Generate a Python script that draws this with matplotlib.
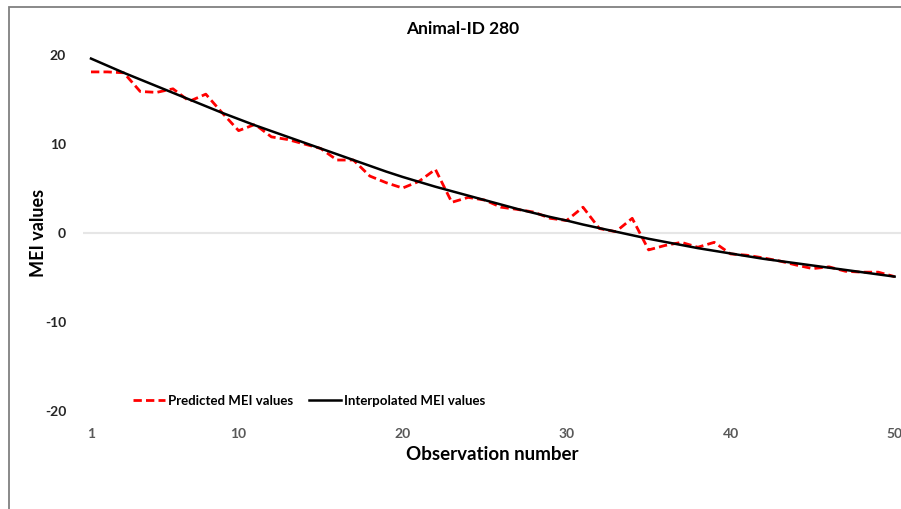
import matplotlib
matplotlib.use("Agg")
import matplotlib.pyplot as plt
from matplotlib.patches import Rectangle

obs = list(range(1, 51))
predicted = [18.1, 18.1, 18.0, 15.9, 15.8, 16.2, 14.8, 15.6, 13.5, 11.5,
             12.2, 10.8, 10.5, 10.0, 9.5, 8.2, 8.2, 6.4, 5.65, 5.05,
             5.8, 7.15, 3.45, 4.0, 3.7, 2.9, 2.65, 2.35, 1.65, 1.4,
             2.9, 0.5, 0.15, 1.65, -1.9, -1.4, -1.05, -1.6, -1.05, -2.35,
             -2.5, -2.8, -3.15, -3.6, -4.0, -3.8, -4.3, -4.4, -4.4, -4.9]
interpolated = [19.6, 18.8, 18.0, 17.25, 16.5, 15.75, 15.0, 14.25, 13.5, 12.8,
                12.1, 11.45, 10.8, 10.15, 9.5, 8.85, 8.2, 7.55, 6.9, 6.3,
                5.75, 5.2, 4.7, 4.2, 3.7, 3.2, 2.7, 2.25, 1.8, 1.4,
                0.95, 0.55, 0.15, -0.25, -0.65, -1.0, -1.35, -1.7, -2.0, -2.3,
                -2.6, -2.9, -3.15, -3.4, -3.65, -3.9, -4.15, -4.4, -4.65, -4.9]
xticks = [1, 10, 20, 30, 40, 50]
yticks = [-20, -10, 0, 10, 20]

plt.rcParams['font.family'] = ['Lato', 'DejaVu Sans']
plt.rcParams['axes.unicode_minus'] = False

fig = plt.figure(figsize=(9.01, 5.09), dpi=100)
W, H = 901, 509

# chart frame (runs off the right and bottom edges)
fig.add_artist(Rectangle((9 / W, -0.2), 1.2, 1.2 - 7 / H, transform=fig.transFigure,
                         fill=False, edgecolor='#808080', lw=1.3))

ax = fig.add_axes([82.8 / W, (H - 411) / H, 820 / W, 356 / H])
ax.axhline(0, color='#e6e6e6', lw=1.5, zorder=0)
ax.plot(obs, predicted, color='#ff0000', lw=2.0, ls=(0, (3, 1.5)), label='Predicted MEI values')
ax.plot(obs, interpolated, color='black', lw=1.8, label='Interpolated MEI values')

ax.set_xlim(0.5, 50.5)
ax.set_ylim(-20, 20)
ax.set_xticks(xticks)
ax.set_yticks(yticks)
for s in ax.spines.values():
    s.set_visible(False)
ax.tick_params(length=0)
ax.tick_params(axis='y', pad=12, labelsize=10, labelcolor='#262626')
ax.tick_params(axis='x', pad=12, labelsize=10, labelcolor='#595959')
for t in ax.get_yticklabels():
    t.set_fontweight('bold')
for t in ax.get_xticklabels():
    t.set_fontweight('bold')

fig.text(462.5 / W, 1 - 29 / H, 'Animal-ID 280', ha='center', va='center',
         fontsize=12.5, fontweight='bold')
fig.text(492.5 / W, 1 - 455 / H, 'Observation number', ha='center', va='center',
         fontsize=13.5, fontweight='bold')
fig.text(38 / W, 1 - 233 / H, 'MEI values', ha='center', va='center', rotation=90,
         fontsize=13, fontweight='bold')

leg = ax.legend(loc='center left', bbox_to_anchor=(133 / W, 1 - 401 / H),
                bbox_transform=fig.transFigure, ncol=2, frameon=False,
                borderpad=0, borderaxespad=0,
                handlelength=2.4, handletextpad=0.25, columnspacing=1.2,
                prop={'size': 9.5, 'weight': 'bold'})

fig.savefig('out.png', dpi=100)
